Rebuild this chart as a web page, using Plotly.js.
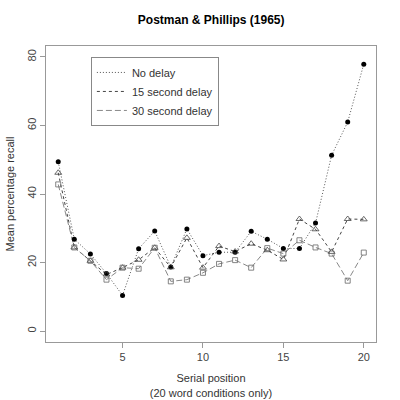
<!DOCTYPE html>
<html><head><meta charset="utf-8">
<script src="https://cdn.plot.ly/plotly-3.0.1.min.js"></script>
<style>html,body{margin:0;padding:0;background:#fff}#plot{width:400px;height:400px}</style>
</head><body><div id="plot"></div>
<script>
var positions = [1,2,3,4,5,6,7,8,9,10,11,12,13,14,15,16,17,18,19,20];
var noDelay = [49.4,26.8,22.5,16.8,10.4,24,29.2,18.7,29.8,22,23,23,29.1,26.8,24.1,24.1,31.5,51.3,61,77.9];
var delay15 = [46.2,24.4,20.5,16.5,18.5,20.8,24.3,18.6,27.2,18.5,24.8,23.2,25.5,23.6,20.9,32.7,29.7,23.1,32.7,32.6];
var delay30 = [42.8,24.4,20.5,15.0,18.5,18.2,24.3,14.5,15.0,17.0,19.6,20.7,18.5,24.2,22.6,26.5,24.4,22.6,14.7,22.9];
var seriesNames = ["No delay","15 second delay","30 second delay"];
var xTicks = [5,10,15,20];
var yTicks = [0,20,40,60,80];

var F = "Liberation Sans, Arial, Helvetica, sans-serif";
var series = [
  {y:noDelay, name:seriesNames[0], lc:"#555555", dash:"1px,2px", sym:"circle", ms:5, mc:"#000000", lw:0},
  {y:delay15, name:seriesNames[1], lc:"#444444", dash:"3px,3px", sym:"triangle-up-open", ms:6, mc:"#444444", lw:0.8},
  {y:delay30, name:seriesNames[2], lc:"#888888", dash:"6px,3px", sym:"square-open", ms:5, mc:"#666666", lw:0.8}
];
var traces = [];
series.forEach(function(s){
  traces.push({x:positions, y:s.y, name:s.name, type:"scatter", mode:"lines",
    line:{color:s.lc, width:1, dash:s.dash}});
});
series.forEach(function(s){
  traces.push({x:positions, y:s.y, name:s.name, type:"scatter", mode:"markers", showlegend:false,
    marker:{symbol:s.sym, size:s.ms, color:s.mc, line:{width:s.lw, color:s.mc}}});
});
var layout = {
  width:400, height:400,
  margin:{l:46, r:24, t:46, b:58},
  paper_bgcolor:"#fff", plot_bgcolor:"#fff",
  font:{family:F, size:11, color:"#333"},
  showlegend:true,
  title:{text:"<b>Postman & Phillips (1965)</b>", x:0.528, xanchor:"center", y:0.95, yanchor:"middle",
         font:{family:F, size:12, color:"#000"}},
  xaxis:{range:[0.24,20.76], tickvals:xTicks, ticktext:xTicks.map(String),
         showgrid:false, zeroline:false, showline:true, mirror:true, linecolor:"#999", linewidth:1,
         ticks:"outside", ticklen:5, tickcolor:"#999", tickfont:{size:11, color:"#444"},
         title:{text:"Serial position<br>(20 word conditions only)", font:{size:11, color:"#333"}, standoff:12}},
  yaxis:{range:[-3.2,83.2], tickvals:yTicks, ticktext:yTicks.map(String), tickangle:-90,
         showgrid:false, zeroline:false, showline:true, mirror:true, linecolor:"#999", linewidth:1,
         ticks:"outside", ticklen:5, tickcolor:"#999", tickfont:{size:11, color:"#444"},
         title:{text:"Mean percentage recall", font:{size:11, color:"#333"}, standoff:8}},
  legend:{x:0.136, y:0.963, xanchor:"left", yanchor:"top", bgcolor:"#fff",
          bordercolor:"#888", borderwidth:1, font:{size:11, color:"#333"},
          tracegroupgap:0, itemwidth:30}
};
Plotly.newPlot("plot", traces, layout, {displayModeBar:false, staticPlot:true});
</script></body></html>
